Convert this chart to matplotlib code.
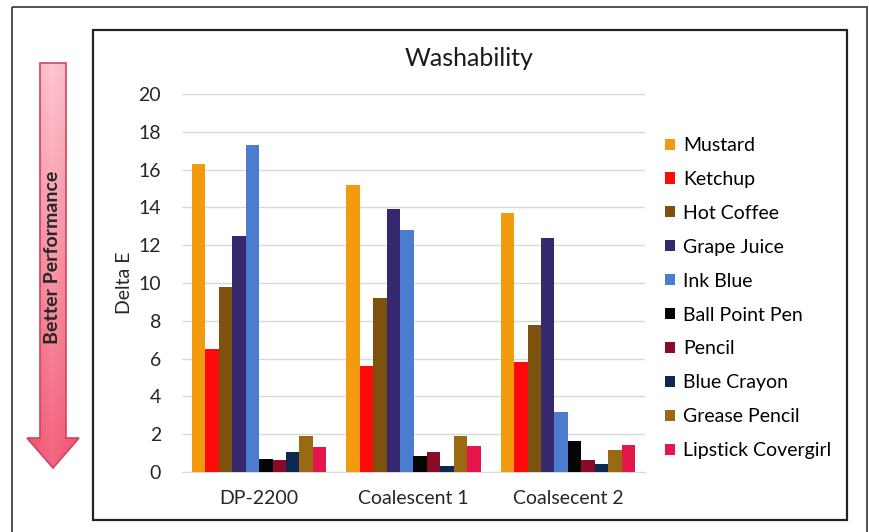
import numpy as np
import matplotlib.pyplot as plt
from matplotlib.patches import Rectangle, Polygon

plt.rcParams['font.family'] = ['Lato', 'DejaVu Sans']

# data
groups = ["DP-2200", "Coalescent 1", "Coalsecent 2"]
stains = ["Mustard", "Ketchup", "Hot Coffee", "Grape Juice", "Ink Blue",
          "Ball Point Pen", "Pencil", "Blue Crayon", "Grease Pencil",
          "Lipstick Covergirl"]
mustard = [16.3, 15.2, 13.7]
ketchup = [6.5, 5.6, 5.8]
hot_coffee = [9.8, 9.2, 7.8]
grape_juice = [12.5, 13.9, 12.4]
ink_blue = [17.3, 12.8, 3.2]
ball_point = [0.7, 0.85, 1.65]
pencil = [0.65, 1.05, 0.65]
blue_crayon = [1.05, 0.3, 0.4]
grease_pencil = [1.9, 1.9, 1.15]
lipstick = [1.3, 1.35, 1.45]
series = [mustard, ketchup, hot_coffee, grape_juice, ink_blue,
          ball_point, pencil, blue_crayon, grease_pencil, lipstick]
colors = ["#F39B0F", "#FF0A0A", "#7D520F", "#35286E", "#4A7DCF",
          "#050505", "#8A0B28", "#0E2850", "#9A6A12", "#E4164C"]

W, H = 869, 532
fig = plt.figure(figsize=(W / 100, H / 100), dpi=100)

# background layer in pixel coordinates for the frames and arrow
bg = fig.add_axes([0, 0, 1, 1], zorder=0)
bg.set_xlim(0, W)
bg.set_ylim(H, 0)
bg.axis("off")
bg.add_patch(Rectangle((12, 7), 855, 540, fill=False, edgecolor="#333333", lw=1.2))
bg.add_patch(Rectangle((93, 30), 754, 490, facecolor="white", edgecolor="#222222", lw=1.6))

# "better performance" arrow with a pink gradient
arrow_pts = [(40, 63), (66, 63), (66, 438), (79, 438), (53, 468),
             (27, 438), (40, 438)]
yy, xx = np.mgrid[0:1:200j, 0:1:60j]
top = np.array([0.99, 0.78, 0.82])
bot = np.array([0.95, 0.40, 0.50])
grad = top[None, None, :] * (1 - yy[..., None]) + bot[None, None, :] * yy[..., None]
edge = np.abs(xx - 0.5)[..., None] * 0.4
grad = np.clip(grad - edge * np.array([0.05, 0.5, 0.45]), 0, 1)
img = bg.imshow(grad, extent=(27, 79, 468, 63), aspect="auto", zorder=1)
poly = Polygon(arrow_pts, closed=True, facecolor="none", edgecolor="#D04560", lw=1.2, zorder=2)
bg.add_patch(poly)
img.set_clip_path(poly)
bg.text(53, 257, "Better Performance", rotation=90, ha="center", va="center",
        fontsize=14, fontweight="bold", color="#262626", zorder=3)

fig.text(469 / W, 1 - 58 / H, "Washability", ha="center", va="center",
         fontsize=18, color="#1a1a1a")

ax = fig.add_axes([182 / W, 1 - 472 / H, (645 - 182) / W, (472 - 94) / H], zorder=1)
ax.patch.set_alpha(0)
x = np.arange(len(groups))
width = 0.087
for i, (name, vals, c) in enumerate(zip(stains, series, colors)):
    ax.bar(x + (i - 4.5) * width, vals, width, color=c, label=name, zorder=3)

ax.set_xlim(-0.5, 2.5)
ax.set_ylim(0, 20)
ax.set_yticks(range(0, 21, 2))
ax.set_xticks(x)
ax.set_xticklabels(groups)
ax.grid(axis="y", color="#D9D9D9", lw=1, zorder=0)
for s in ["top", "right", "left"]:
    ax.spines[s].set_visible(False)
ax.spines["bottom"].set_color("#D9D9D9")
ax.tick_params(axis="both", length=0, labelsize=14, colors="#262626")
ax.tick_params(axis="y", pad=15)
ax.tick_params(axis="x", pad=13)
ax.set_ylabel("Delta E", fontsize=14, color="#262626", labelpad=4)

ax.legend(loc="upper left", bbox_to_anchor=(665 / W, 1 - 137 / H),
          bbox_transform=fig.transFigure, frameon=False, fontsize=14,
          handlelength=0.5, handleheight=0.5, handletextpad=0.45,
          labelspacing=0.87, borderaxespad=0, borderpad=0)

fig.savefig("out.png", dpi=100)
